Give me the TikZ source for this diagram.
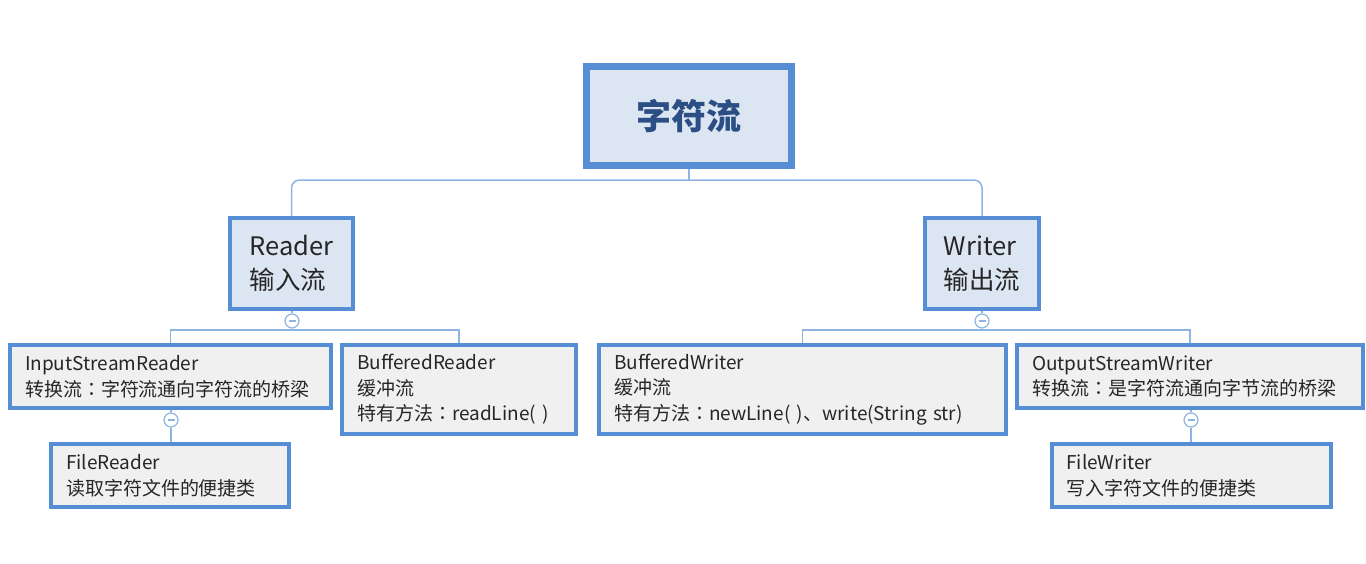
\documentclass[tikz,border=0pt]{standalone}
\usepackage{fontspec}
\setmainfont{Noto Sans CJK SC}
\newfontfamily\tcfont{Noto Sans CJK TC}
\newcommand{\zhcolon}{{\tcfont ：}}
\definecolor{bordc}{HTML}{558ED5}
\definecolor{connc}{HTML}{8DB4E2}
\definecolor{bluefill}{HTML}{DCE6F2}
\definecolor{grayfill}{HTML}{F0F0F0}
\definecolor{txtc}{HTML}{262626}
\definecolor{roottxt}{HTML}{2B4F85}
\begin{document}
\begin{tikzpicture}[x=1pt,y=-1pt,
  leafbox/.style={draw=bordc, fill=grayfill, line width=4pt, inner xsep=15pt, inner ysep=0pt,
    align=left, text=txtc, font=\fontsize{19}{25.5}\selectfont},
  midbox/.style={draw=bordc, fill=bluefill, line width=4pt, inner sep=0pt, align=left,
    text=txtc, font=\fontsize{25.5}{34}\selectfont},
  rootbox/.style={draw=bordc, fill=bluefill, line width=7pt, inner sep=0pt, text=roottxt,
    font=\fontsize{35}{40}\selectfont\bfseries},
  conn/.style={draw=connc, line width=1.5pt},
  toggle/.style={circle, draw=connc, fill=white, line width=1.2pt, minimum size=14pt, inner sep=0pt,
    path picture={\draw[connc, line width=1.2pt]
      ([xshift=-3.5pt]path picture bounding box.center) -- ([xshift=3.5pt]path picture bounding box.center);}}
]
\useasboundingbox (0,0) rectangle (1366,563);

\node[rootbox, minimum width=205pt, minimum height=99pt] (root) at (689,116) {字符流};
\node[midbox, minimum width=123pt, minimum height=91pt] (reader) at (291.5,263.5) {Reader\\输入流};
\node[midbox, minimum width=114pt, minimum height=91pt] (writer) at (982,263.5) {Writer\\输出流};

\node[leafbox, text width=291pt, minimum height=63pt] (isr) at (170.5,376.5)
  {InputStreamReader\\转换流\zhcolon 字符流通向字符流的桥梁};
\node[leafbox, text width=204pt, minimum height=89pt] (br) at (459,389.5)
  {BufferedReader\\缓冲流\\特有方法\zhcolon readLine( )};
\node[leafbox, text width=208pt, minimum height=63pt] (fr) at (170,475.5)
  {FileReader\\读取字符文件的便捷类};
\node[leafbox, text width=377pt, minimum height=89pt] (bw) at (802.5,389.5)
  {BufferedWriter\\缓冲流\\特有方法\zhcolon newLine( )、write(String str)};
\node[leafbox, text width=316pt, minimum height=63pt] (osw) at (1190,376.5)
  {OutputStreamWriter\\转换流\zhcolon 是字符流通向字节流的桥梁};
\node[leafbox, text width=250pt, minimum height=63pt, inner xsep=14.5pt] (fw) at (1191.5,475.5)
  {FileWriter\\写入字符文件的便捷类};

\coordinate (b0) at (689,180);
\coordinate (b1) at (292,330);
\coordinate (b2) at (982,330);

\draw[conn, rounded corners=8pt] (reader.north) |- (b0) -| (writer.north);
\draw[conn] (root.south) -- (b0);

\node[toggle] (t1) at (292,321) {};
\node[toggle] (t2) at (982,321) {};
\node[toggle] (t3) at (171,420) {};
\node[toggle] (t4) at (1191,420) {};

\draw[conn] (reader.south -| t1) -- (t1.north);
\draw[conn] (t1.south) -- (b1);
\draw[conn] (isr.north) |- (b1) -| (br.north);

\draw[conn] (writer.south -| t2) -- (t2.north);
\draw[conn] (t2.south) -- (b2);
\draw[conn] (bw.north) |- (b2) -| (osw.north);

\draw[conn] (isr.south -| t3) -- (t3.north);
\draw[conn] (t3.south) -- (t3.south |- fr.north);

\draw[conn] (osw.south -| t4) -- (t4.north);
\draw[conn] (t4.south) -- (t4.south |- fw.north);
\end{tikzpicture}
\end{document}
